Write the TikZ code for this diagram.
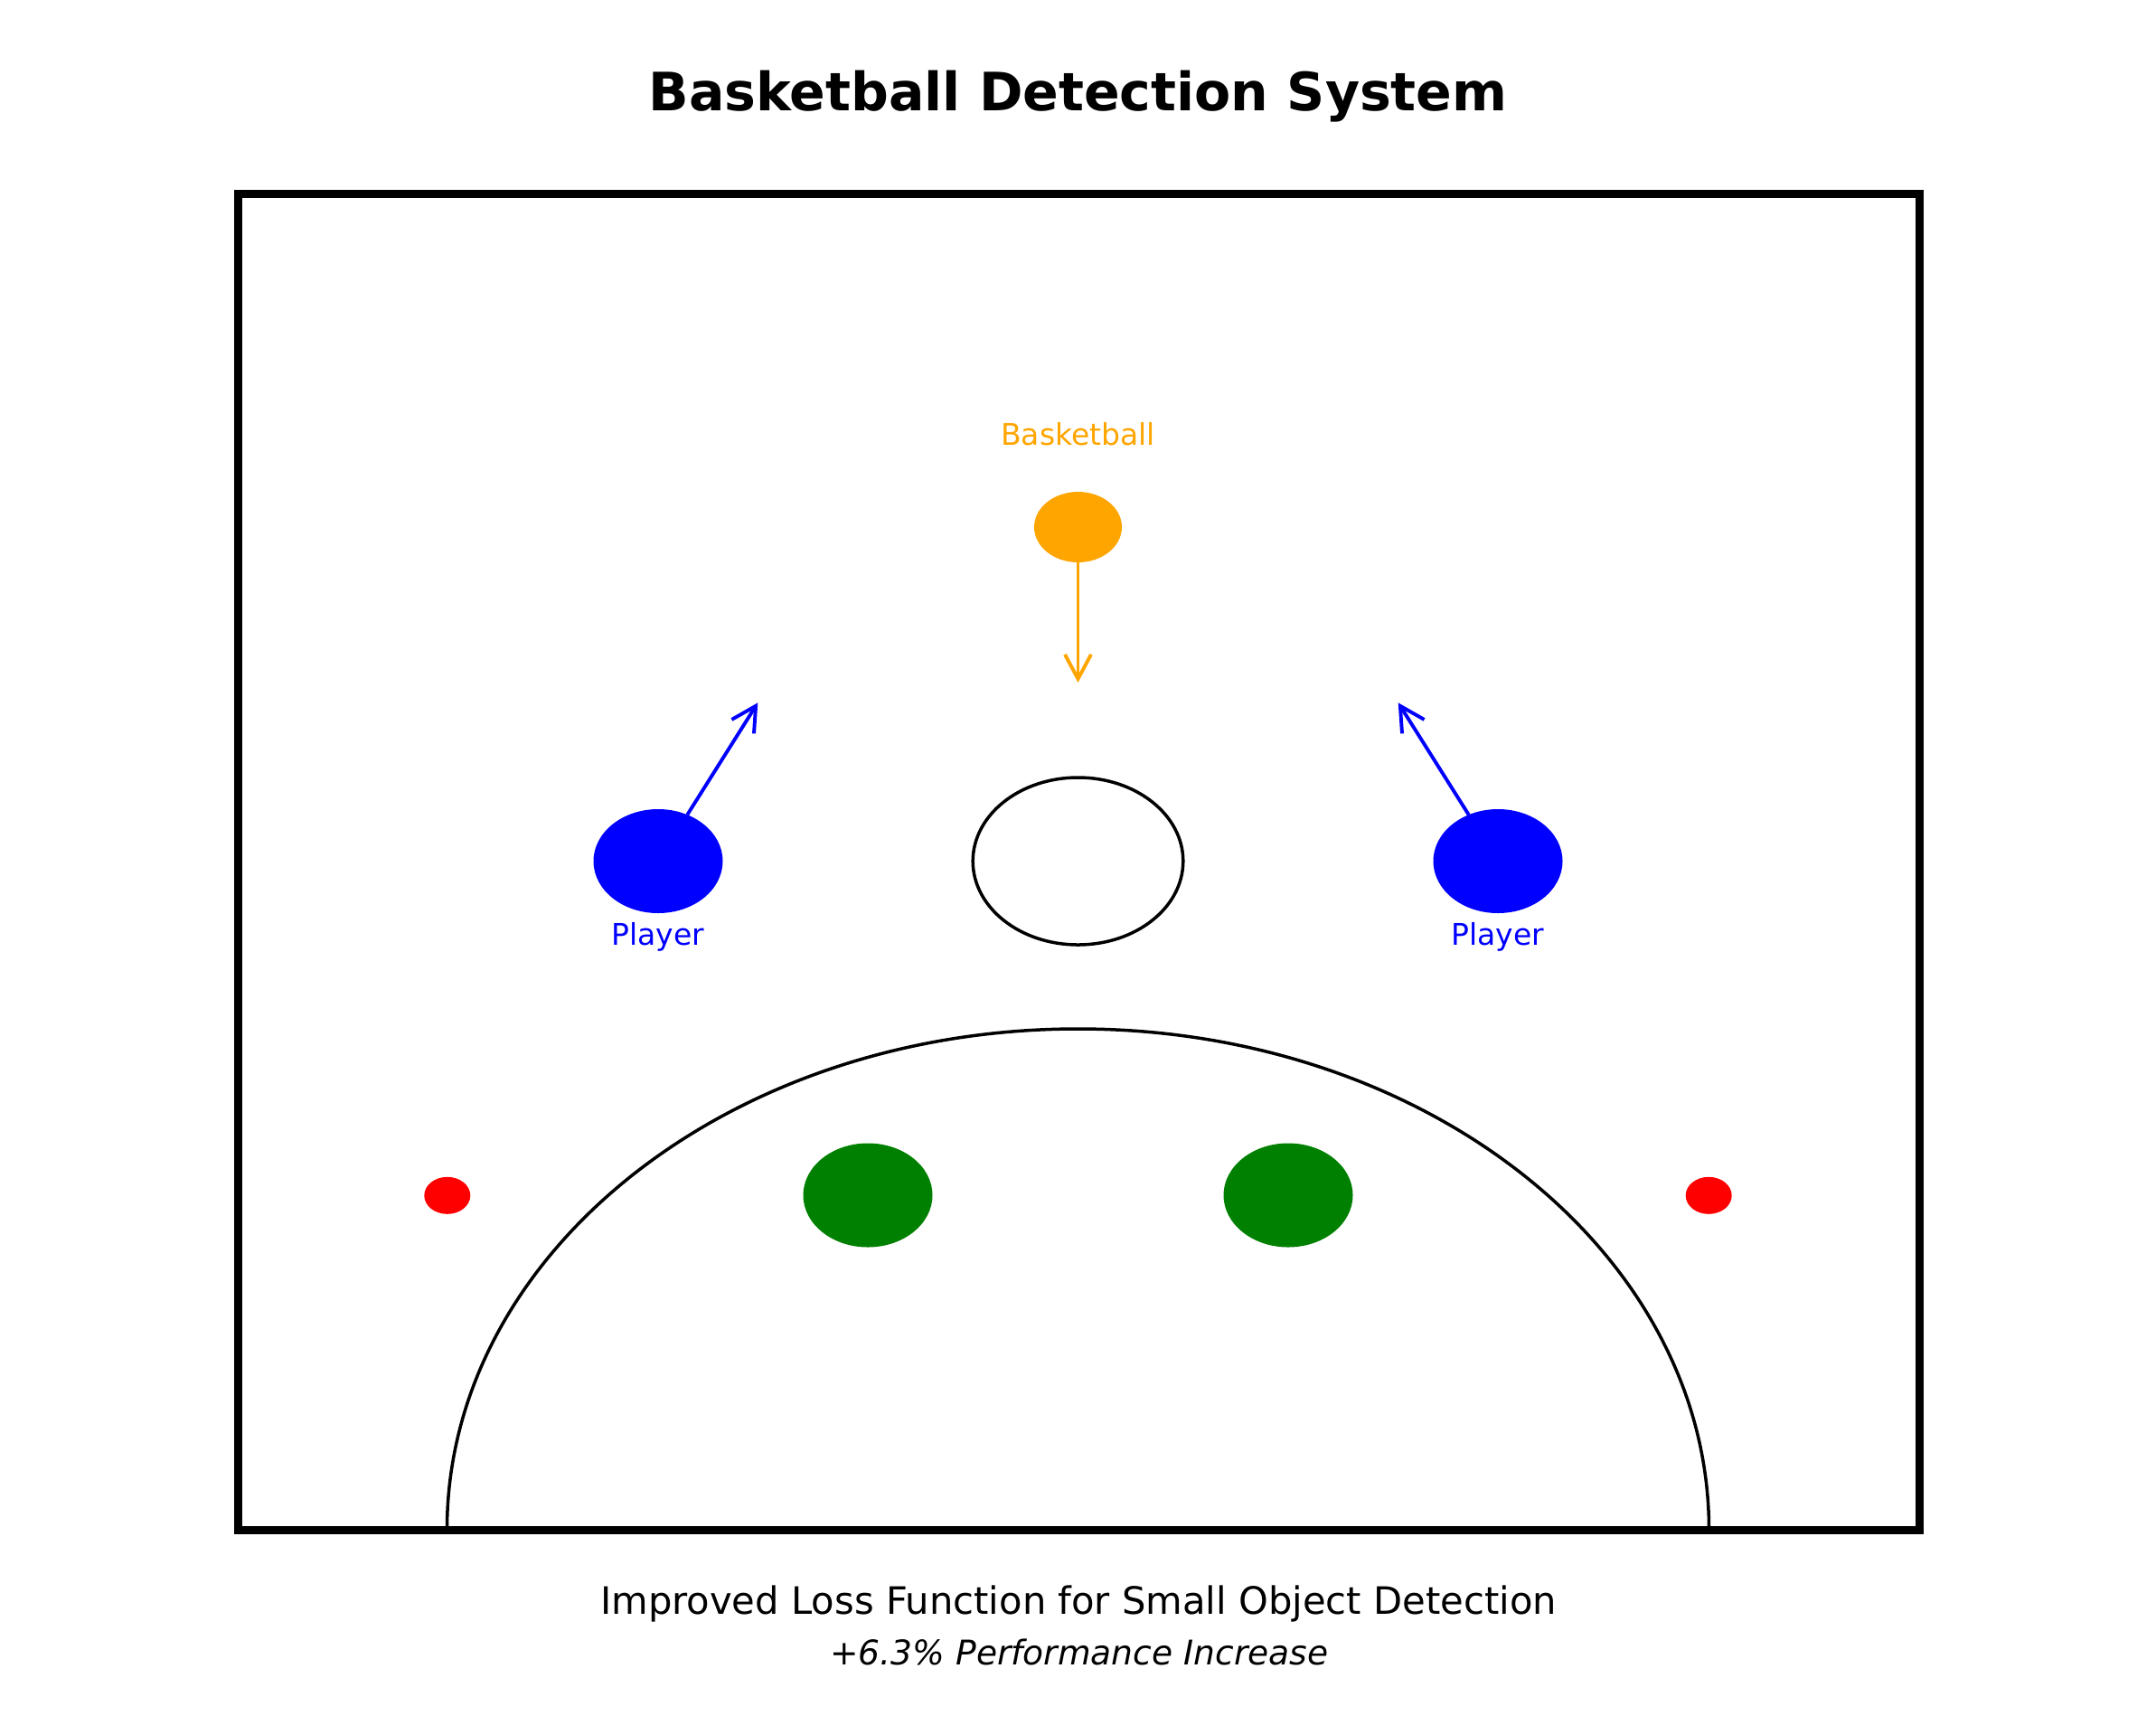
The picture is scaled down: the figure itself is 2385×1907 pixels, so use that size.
\documentclass[tikz,border=0pt]{standalone}
\usepackage{fontspec}
\setmainfont{DejaVu Sans}
\usetikzlibrary{shapes.geometric,arrows.meta}
\definecolor{ballorange}{RGB}{255,165,0}
\definecolor{plblue}{RGB}{0,0,255}
\definecolor{plgreen}{RGB}{0,128,0}
\definecolor{plred}{RGB}{255,0,0}
\tikzset{
  dot/.style={ellipse, inner sep=0pt, outer sep=0pt, draw=none},
  lbl/.style={anchor=base, inner sep=0pt, font=\fontsize{33}{40}\selectfont},
  mvarrow/.style={line width=3.9pt, -{Straight Barb[length=27pt,width=29pt]}},
}
\begin{document}
\begin{tikzpicture}[x=1pt,y=1pt]
\useasboundingbox (0,0) rectangle (2385,-1907);
\fill[white] (0,0) rectangle (2385,-1907);

% title
\node[anchor=base, inner sep=0pt, font=\bfseries\fontsize{58.5}{70}\selectfont] (title) at (1192.5,-122) {Basketball Detection System};

% court frame
\draw[line width=9pt, line join=miter] (263.5,-214) rectangle (2123,-1692);

% three-point arc
\draw[line width=3.5pt] (494.5,-1692) arc[start angle=180, end angle=0, x radius=698, y radius=554];

% hoop
\node[ellipse, draw, line width=3.5pt, inner sep=0pt, minimum width=232.6pt, minimum height=185pt] (hoop) at (1192.5,-952.5) {};

% basketball
\node[dot, fill=ballorange, minimum width=97pt, minimum height=78pt] (ball) at (1192.5,-583) {};
\node[lbl, text=ballorange] (balllbl) at (1192.5,-492) {Basketball};
\coordinate (balltip) at (1192.5,-755);
\draw[mvarrow, draw=ballorange] (ball.south) -- (balltip);

% players
\node[dot, fill=plblue, minimum width=143pt, minimum height=115pt] (lp) at (728,-952.5) {};
\node[dot, fill=plblue, minimum width=143pt, minimum height=115pt] (rp) at (1657,-952.5) {};
\node[lbl, text=plblue] (lplbl) at (728,-1045) {Player};
\node[lbl, text=plblue] (rplbl) at (1657,-1045) {Player};
\coordinate (lptip) at (838.3,-777.3);
\coordinate (rptip) at (1546.7,-777.3);
\draw[mvarrow, draw=plblue] (lp) -- (lptip);
\draw[mvarrow, draw=plblue] (rp) -- (rptip);

% green players
\node[dot, fill=plgreen, minimum width=143pt, minimum height=115pt] (lg) at (960,-1322) {};
\node[dot, fill=plgreen, minimum width=143pt, minimum height=115pt] (rg) at (1425,-1322) {};

% red dots
\node[dot, fill=plred, minimum width=51pt, minimum height=41pt] (lr) at (494.8,-1322.3) {};
\node[dot, fill=plred, minimum width=51pt, minimum height=41pt] (rr) at (1890.2,-1322.3) {};

% captions
\node[anchor=base, inner sep=0pt, font=\fontsize{41.7}{50}\selectfont] (cap1) at (1193,-1785) {Improved Loss Function for Small Object Detection};
\node[anchor=base, inner sep=0pt, font=\itshape\fontsize{37.6}{45}\selectfont] (cap2) at (1194,-1841) {+6.3\% Performance Increase};
\end{tikzpicture}
\end{document}
